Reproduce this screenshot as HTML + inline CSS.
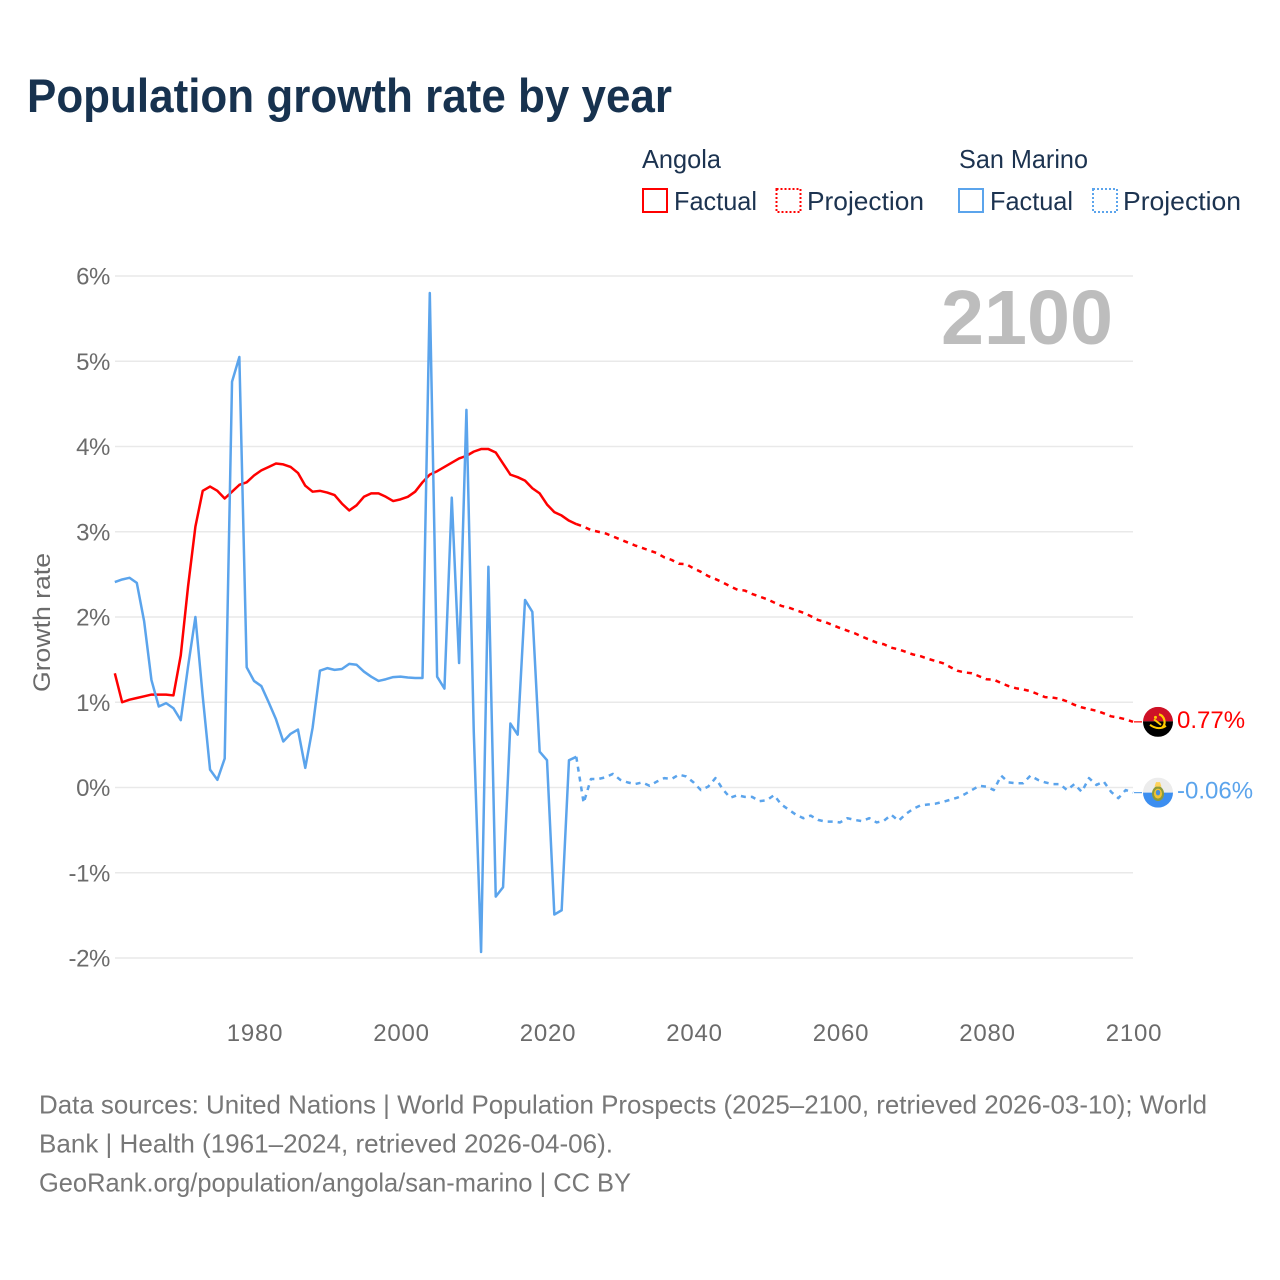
<!DOCTYPE html>
<html lang="en">
<head>
<meta charset="utf-8">
<title>Population growth rate by year</title>
<style>
  html, body { margin: 0; padding: 0; background: #fff; }
  svg { display: block; font-family: "Liberation Sans", sans-serif; }
</style>
</head>
<body>
<svg id="chart" xmlns="http://www.w3.org/2000/svg" width="1280" height="1280" viewBox="0 0 1280 1280">
  <defs>
    <clipPath id="flag-clip"><circle cx="0" cy="0" r="15"/></clipPath>
  </defs>
  <rect x="0" y="0" width="1280" height="1280" fill="#ffffff"/>
  <text x="27" y="112" font-size="47" font-weight="700" fill="#17324f" textLength="645" lengthAdjust="spacingAndGlyphs">Population growth rate by year</text>

  <g font-size="26" fill="#1c3350">
    <text x="642" y="168" textLength="79" lengthAdjust="spacingAndGlyphs">Angola</text>
    <text x="959" y="168" textLength="129" lengthAdjust="spacingAndGlyphs">San Marino</text>
    <rect x="643" y="189" width="24" height="23" fill="none" stroke="#ff0000" stroke-width="2"/>
    <text x="674" y="210" textLength="83" lengthAdjust="spacingAndGlyphs">Factual</text>
    <rect x="776.500" y="189" width="24" height="23" fill="none" stroke="#ff0000" stroke-width="2" stroke-dasharray="2 2"/>
    <text x="807" y="210" textLength="117" lengthAdjust="spacingAndGlyphs">Projection</text>
    <rect x="959" y="189" width="24" height="23" fill="none" stroke="#5ba4ec" stroke-width="2"/>
    <text x="990" y="210" textLength="83" lengthAdjust="spacingAndGlyphs">Factual</text>
    <rect x="1093" y="189" width="24" height="23" fill="none" stroke="#5ba4ec" stroke-width="2" stroke-dasharray="2 2"/>
    <text x="1123" y="210" textLength="118" lengthAdjust="spacingAndGlyphs">Projection</text>
  </g>

  <g id="grid"></g>
  <text x="941" y="344" font-size="77" font-weight="700" fill="#bdbdbd" textLength="172" lengthAdjust="spacingAndGlyphs">2100</text>
  <g id="y-ticks"></g>
  <g id="x-ticks"></g>
  <text transform="translate(50,622.500) rotate(-90)" text-anchor="middle" font-size="24" fill="#6b6b6b" textLength="139" lengthAdjust="spacingAndGlyphs">Growth rate</text>

  <g id="series"></g>

  <g id="flag-angola">
    <g clip-path="url(#flag-clip)">
      <rect x="-15" y="-15" width="30" height="14.500" fill="#ce1126"/>
      <rect x="-15" y="-0.500" width="30" height="15.500" fill="#000000"/>
      <path d="M1 -7.500 A8 8 0 0 1 4 6" fill="none" stroke="#ffcb00" stroke-width="2.200"/>
      <path d="M-8 3 Q0 9 8 4" fill="none" stroke="#ffcb00" stroke-width="2"/>
      <path d="M-4 -2.500 L3 3" stroke="#ffcb00" stroke-width="2"/>
      <circle cx="-2.500" cy="-4.500" r="1.500" fill="#ffcb00"/>
    </g>
  </g>
  <g id="flag-san-marino">
    <g clip-path="url(#flag-clip)">
      <rect x="-15" y="-15" width="30" height="15" fill="#ececec"/>
      <rect x="-15" y="0" width="30" height="15" fill="#3c8ef0"/>
      <ellipse cx="0" cy="1" rx="6" ry="7.500" fill="#8c9a3c"/>
      <ellipse cx="0" cy="1" rx="4" ry="5" fill="#f4c430"/>
      <ellipse cx="0" cy="0" rx="2.200" ry="2.800" fill="#4a8fd8"/>
      <path d="M-3.500 -6 L-2 -10.500 L2 -10.500 L3.500 -6 Z" fill="#ffd35c"/>
    </g>
  </g>

  <g id="end-labels"></g>

  <g font-size="26" fill="#777777">
    <text x="39" y="1113.500" textLength="1168" lengthAdjust="spacingAndGlyphs">Data sources: United Nations | World Population Prospects (2025–2100, retrieved 2026-03-10); World</text>
    <text x="39" y="1152.500" textLength="574" lengthAdjust="spacingAndGlyphs">Bank | Health (1961–2024, retrieved 2026-04-06).</text>
    <text x="39" y="1191.500" textLength="592" lengthAdjust="spacingAndGlyphs">GeoRank.org/population/angola/san-marino | CC BY</text>
  </g>
</svg>

<script>
// Chart data (growth rate in %). Factual series cover 1961-2024, projections 2025-2100.
const factualStartYear = 1961;
const projectionStartYear = 2025;
const yTickValues = [6, 5, 4, 3, 2, 1, 0, -1, -2];
const xTickYears = [1980, 2000, 2020, 2040, 2060, 2080, 2100];

const angolaFactual = [
  1.34, 1.00, 1.03, 1.05, 1.07, 1.09, 1.09, 1.09, 1.08, 1.55,
  2.36, 3.06, 3.48, 3.53, 3.48, 3.39, 3.47, 3.55, 3.58, 3.66,
  3.72, 3.76, 3.80, 3.79, 3.76, 3.69, 3.54, 3.47, 3.48, 3.46,
  3.43, 3.33, 3.25, 3.31, 3.41, 3.45, 3.45, 3.41, 3.36, 3.38,
  3.41, 3.47, 3.58, 3.67, 3.71, 3.76, 3.81, 3.86, 3.89, 3.94,
  3.97, 3.97, 3.93, 3.80, 3.67, 3.64, 3.60, 3.51, 3.45, 3.32,
  3.23, 3.19, 3.13, 3.09
];
const angolaProjection = [
  3.06, 3.02, 3.00, 2.98, 2.945, 2.91, 2.875, 2.84, 2.81, 2.78,
  2.75, 2.70, 2.67, 2.625, 2.62, 2.57, 2.53, 2.48, 2.445, 2.405,
  2.36, 2.32, 2.31, 2.27, 2.24, 2.21, 2.17, 2.13, 2.11, 2.08,
  2.05, 2.01, 1.965, 1.94, 1.905, 1.87, 1.84, 1.81, 1.77, 1.735,
  1.70, 1.68, 1.64, 1.62, 1.59, 1.56, 1.54, 1.51, 1.485, 1.46,
  1.415, 1.37, 1.35, 1.34, 1.305, 1.27, 1.265, 1.225, 1.19, 1.165,
  1.15, 1.13, 1.095, 1.06, 1.055, 1.04, 1.01, 0.97, 0.94, 0.92,
  0.90, 0.87, 0.835, 0.82, 0.80, 0.77
];
const sanMarinoFactual = [
  2.41, 2.44, 2.46, 2.40, 1.95, 1.26, 0.95, 0.99, 0.93, 0.79,
  1.42, 2.00, 1.07, 0.21, 0.09, 0.34, 4.76, 5.05, 1.41, 1.25,
  1.19, 1.00, 0.80, 0.54, 0.63, 0.68, 0.23, 0.70, 1.37, 1.40,
  1.38, 1.39, 1.45, 1.44, 1.36, 1.30, 1.25, 1.27, 1.295, 1.30,
  1.29, 1.285, 1.285, 5.80, 1.30, 1.16, 3.40, 1.46, 4.43, 0.66,
  -1.93, 2.59, -1.28, -1.17, 0.75, 0.62, 2.20, 2.06, 0.42, 0.32,
  -1.49, -1.44, 0.32, 0.36
];
const sanMarinoProjection = [
  -0.18, 0.10, 0.10, 0.12, 0.16, 0.09, 0.06, 0.04, 0.06, 0.02,
  0.07, 0.11, 0.10, 0.15, 0.13, 0.06, -0.03, 0.01, 0.11, -0.02,
  -0.12, -0.09, -0.11, -0.11, -0.16, -0.15, -0.09, -0.20, -0.26, -0.32,
  -0.36, -0.33, -0.38, -0.40, -0.40, -0.41, -0.36, -0.38, -0.395, -0.36,
  -0.41, -0.39, -0.32, -0.39, -0.31, -0.25, -0.21, -0.20, -0.19, -0.17,
  -0.145, -0.12, -0.08, -0.03, 0.02, 0.01, -0.03, 0.14, 0.06, 0.05,
  0.05, 0.14, 0.09, 0.06, 0.04, 0.04, -0.03, 0.04, -0.05, 0.11,
  0.03, 0.07, -0.05, -0.125, -0.03, -0.06
];

// Axis functions
const xAxis = { year0: 1980, px0: 254, pxPerYear: 7.325, tickLabelOffset: 1 };
const yAxis = { zeroPx: 787.5, pxPerUnit: 85.25 };
function xScale(year) { return xAxis.px0 + (year - xAxis.year0) * xAxis.pxPerYear; }
function yScale(v) { return yAxis.zeroPx - v * yAxis.pxPerUnit; }

const NS = 'http://www.w3.org/2000/svg';
function makeEl(tag, attrs, parent) {
  const el = document.createElementNS(NS, tag);
  for (const k in attrs) el.setAttribute(k, attrs[k]);
  parent.appendChild(el);
  return el;
}
function buildPath(points) {
  return points.map(function (p, i) {
    return (i ? 'L' : 'M') + xScale(p[0]).toFixed(2) + ' ' + yScale(p[1]).toFixed(2);
  }).join(' ');
}
function toPoints(startYear, values) {
  return values.map(function (v, i) { return [startYear + i, v]; });
}
function pctLabel(v) {
  return v + '%';
}

const gridLayer = document.getElementById('grid');
const yTickLayer = document.getElementById('y-ticks');
yTickValues.forEach(function (v) {
  const line = makeEl('line', { x1: 115, x2: 1133, y1: yScale(v), y2: yScale(v), stroke: '#e9e9e9', 'stroke-width': 1.5 }, gridLayer);
  
  
  const label = makeEl('text', { x: 110, y: yScale(v) + 8.5, 'text-anchor': 'end', 'font-size': 24, fill: '#6b6b6b', 'letter-spacing': '-0.4' }, yTickLayer);
  label.textContent = pctLabel(v);
  
  
});

const xTickLayer = document.getElementById('x-ticks');
xTickYears.forEach(function (year) {
  const label = makeEl('text', { x: xScale(year) + xAxis.tickLabelOffset, y: 1041, 'text-anchor': 'middle', 'font-size': 24, fill: '#6b6b6b', 'letter-spacing': '0.8' }, xTickLayer);
  label.textContent = String(year);
  
  
});

const seriesLayer = document.getElementById('series');
const labelLayer = document.getElementById('end-labels');
const RED = '#ff0000';
const BLUE = '#5ba4ec';

function drawCountry(factual, projection, color, flagId) {
  const factualPts = toPoints(factualStartYear, factual);
  const projPts = toPoints(projectionStartYear, projection);
  const lastFactual = factualPts[factualPts.length - 1];

  const f = makeEl('path', { d: buildPath(factualPts), fill: 'none', stroke: color, 'stroke-width': 2.5, 'stroke-linejoin': 'round' }, seriesLayer);
  
  

  const p = makeEl('path', { d: buildPath([lastFactual].concat(projPts)), fill: 'none', stroke: color, 'stroke-width': 2.5, 'stroke-dasharray': '5 5', 'stroke-linejoin': 'round' }, seriesLayer);
  
  

  const lastYear = projPts[projPts.length - 1][0];
  const lastVal = projPts[projPts.length - 1][1];
  const ey = yScale(lastVal);

  const leader = makeEl('line', { x1: xScale(lastYear) + 1, x2: 1142, y1: ey, y2: ey, stroke: color, 'stroke-width': 1.2 }, seriesLayer);
  
  

  document.getElementById(flagId).setAttribute('transform', 'translate(1158,' + ey.toFixed(2) + ')');

  const label = makeEl('text', { x: 1177, y: ey + 6, 'font-size': 24, fill: color }, labelLayer);
  label.textContent = lastVal.toFixed(2) + '%';
  
  
}

drawCountry(angolaFactual, angolaProjection, RED, 'flag-angola');
drawCountry(sanMarinoFactual, sanMarinoProjection, BLUE, 'flag-san-marino');
</script>
</body>
</html>
